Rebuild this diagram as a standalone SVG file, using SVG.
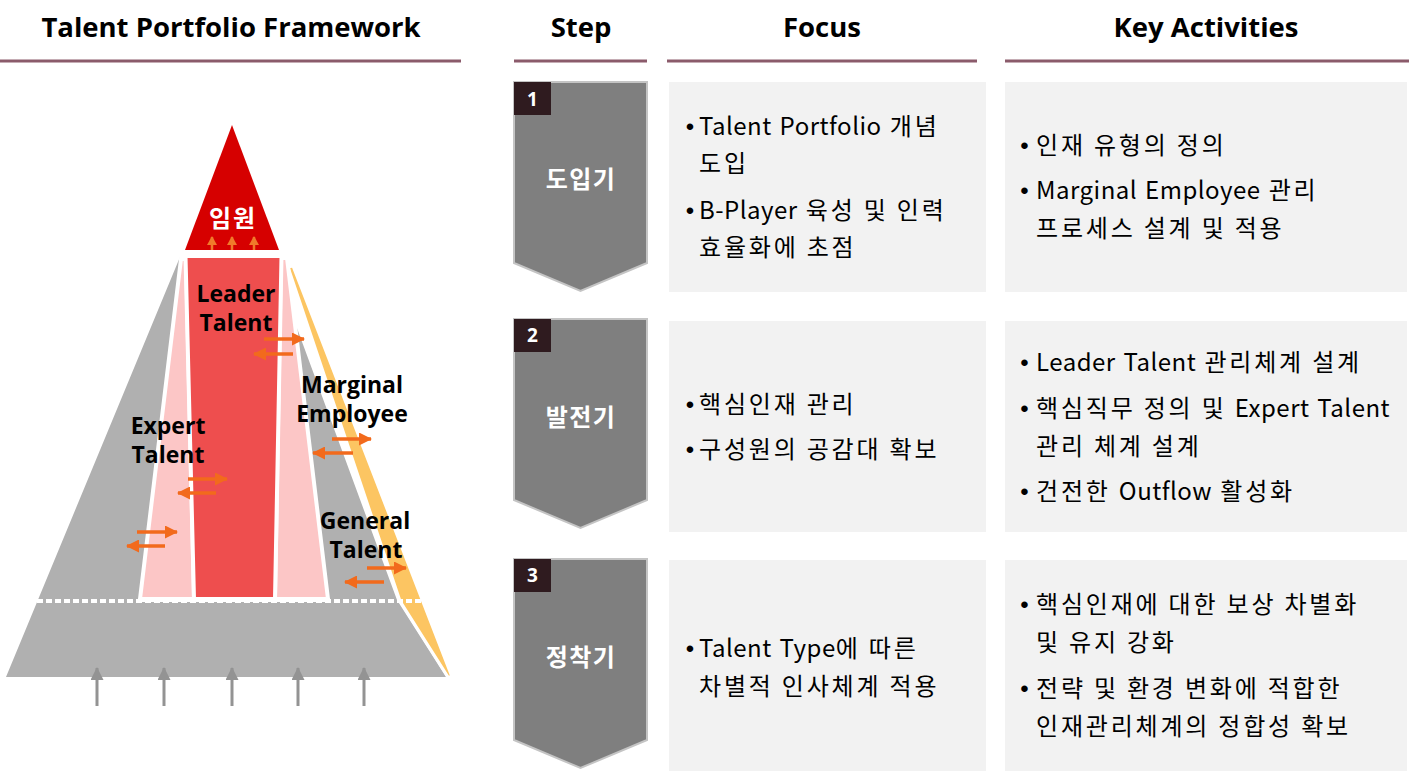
<svg xmlns="http://www.w3.org/2000/svg" width="1409" height="771" viewBox="0 0 1409 771">
<defs>
<style>
.hdr{font-family:"Open Sans","Noto Sans CJK KR",sans-serif;font-weight:700;font-size:27.5px;text-anchor:middle;fill:#000}
.hline{stroke:#8b5b6b;stroke-width:3}
.chev{fill:#7f7f7f;stroke:#c4c4c4;stroke-width:2}
.numbox{fill:#2f1b1f}
.num{font-family:"Open Sans",sans-serif;font-weight:700;font-size:19px;fill:#fff;text-anchor:middle}
.step{font-family:"Noto Sans CJK KR",sans-serif;font-weight:700;font-size:24px;letter-spacing:1.5px;fill:#fff;text-anchor:middle}
.box{fill:#f2f2f2}
.t{font-family:"Noto Sans CJK KR",sans-serif;font-size:24px;letter-spacing:2.8px;fill:#000}
.l{letter-spacing:0.5px;word-spacing:2px}
.b{font-family:"Liberation Sans",sans-serif;font-size:24px;fill:#000;text-anchor:middle}
.lbl{font-family:"Open Sans","Noto Sans CJK KR",sans-serif;font-weight:700;font-size:23px;fill:#000;text-anchor:middle}
.oarr{stroke:#f26a1c;stroke-width:3.5;fill:none}
.garr{stroke:#939393;stroke-width:3;fill:none}
.uarr{stroke:#f07a2a;stroke-width:2.5;fill:none}
.wline{stroke:#fff;stroke-width:4}
</style>
<marker id="oh" markerUnits="userSpaceOnUse" markerWidth="13" markerHeight="13" refX="12" refY="6.5" orient="auto">
<path d="M0,0 L13,6.5 L0,13 Z" fill="#f26a1c"/>
</marker>
<marker id="gh" markerUnits="userSpaceOnUse" markerWidth="13" markerHeight="13" refX="12" refY="6.5" orient="auto">
<path d="M0,0 L13,6.5 L0,13 Z" fill="#939393"/>
</marker>
<marker id="uh" markerUnits="userSpaceOnUse" markerWidth="9" markerHeight="10" refX="8" refY="5" orient="auto">
<path d="M0,0 L9,5 L0,10 Z" fill="#f07a2a"/>
</marker>
</defs>
<rect width="1409" height="771" fill="#fff"/>

<g id="headers">
<text class="hdr" x="231" y="37">Talent Portfolio Framework</text>
<text class="hdr" x="581" y="37">Step</text>
<text class="hdr" x="822" y="37">Focus</text>
<text class="hdr" x="1206" y="37">Key Activities</text>
<line class="hline" x1="0" y1="61" x2="461" y2="61"/>
<line class="hline" x1="514" y1="61" x2="647" y2="61"/>
<line class="hline" x1="667" y1="61" x2="977" y2="61"/>
<line class="hline" x1="1005" y1="61" x2="1409" y2="61"/>
</g>

<g id="pyramid">
<polygon id="base-gray" points="180,257 294,320 397,600 446,677 6,677" fill="#b0b0b0"/>
<polygon id="marginal-strip" points="288,267 293,266 452,677 448,677 400,601" fill="#fcc562" stroke="#fff" stroke-width="3" stroke-linejoin="round"/>
<polygon id="expert-pink" points="181,259 186,259 194,599 140,599" fill="#fcc6c6" stroke="#fff" stroke-width="4"/>
<polygon id="general-pink" points="281,258 287,258 328,599 275,599" fill="#fcc6c6" stroke="#fff" stroke-width="4"/>
<polygon id="leader" points="185.5,256 281.5,256 275,599 194,599" fill="#ee4e4e" stroke="#fff" stroke-width="4"/>
<line x1="37" y1="601" x2="424" y2="601" stroke="#fff" stroke-width="4" stroke-dasharray="6 3"/>
<line class="wline" x1="138" y1="600" x2="330" y2="600"/>
<polygon id="executive" points="232,125 185,250 279,250" fill="#d60000"/>
<text x="233" y="227" font-family="Noto Sans CJK KR, sans-serif" font-weight="700" font-size="24" letter-spacing="2" fill="#fff" text-anchor="middle">임원</text>
<text class="lbl" x="236" y="302">Leader</text>
<text class="lbl" x="236" y="331">Talent</text>
<text class="lbl" x="352" y="393">Marginal</text>
<text class="lbl" x="352" y="422">Employee</text>
<text class="lbl" x="168" y="434">Expert</text>
<text class="lbl" x="168" y="463">Talent</text>
<text class="lbl" x="365" y="529">General</text>
<text class="lbl" x="366" y="558">Talent</text>
</g>

<g id="connectors">
<line class="uarr" x1="212" y1="250" x2="212" y2="237" marker-end="url(#uh)"/>
<line class="uarr" x1="232" y1="250" x2="232" y2="237" marker-end="url(#uh)"/>
<line class="uarr" x1="254" y1="250" x2="254" y2="237" marker-end="url(#uh)"/>
<line class="oarr" x1="264" y1="339" x2="304" y2="339" marker-end="url(#oh)"/>
<line class="oarr" x1="293" y1="354" x2="254" y2="354" marker-end="url(#oh)"/>
<line class="oarr" x1="332" y1="439" x2="371" y2="439" marker-end="url(#oh)"/>
<line class="oarr" x1="353" y1="453" x2="313" y2="453" marker-end="url(#oh)"/>
<line class="oarr" x1="188" y1="479" x2="227" y2="479" marker-end="url(#oh)"/>
<line class="oarr" x1="216" y1="493" x2="178" y2="493" marker-end="url(#oh)"/>
<line class="oarr" x1="137" y1="532" x2="177" y2="532" marker-end="url(#oh)"/>
<line class="oarr" x1="165" y1="546" x2="127" y2="546" marker-end="url(#oh)"/>
<line class="oarr" x1="367" y1="568" x2="406" y2="568" marker-end="url(#oh)"/>
<line class="oarr" x1="384" y1="582" x2="345" y2="582" marker-end="url(#oh)"/>
<line class="garr" x1="97" y1="706" x2="97" y2="668" marker-end="url(#gh)"/>
<line class="garr" x1="164" y1="706" x2="164" y2="668" marker-end="url(#gh)"/>
<line class="garr" x1="232" y1="706" x2="232" y2="668" marker-end="url(#gh)"/>
<line class="garr" x1="298" y1="706" x2="298" y2="668" marker-end="url(#gh)"/>
<line class="garr" x1="364" y1="706" x2="364" y2="668" marker-end="url(#gh)"/>
</g>

<g id="step1">
<path class="chev" d="M514,82 L647,82 L647,263 L580.5,291 L514,263 Z"/>
<rect class="numbox" x="514" y="82" width="37" height="33"/>
<text class="num" x="532.5" y="106">1</text>
<text class="step" x="581" y="188">도입기</text>
</g>
<g id="focus1">
<rect class="box" x="669" y="82" width="317" height="210"/>
<text class="b" x="690" y="135">•</text>
<text class="t" x="699" y="135"><tspan class="l">Talent Portfolio</tspan> 개념</text>
<text class="t" x="699" y="172">도입</text>
<text class="b" x="690" y="219">•</text>
<text class="t" x="699" y="219"><tspan class="l">B-Player</tspan> 육성 및 인력</text>
<text class="t" x="699" y="256">효율화에 초점</text>
</g>
<g id="key1">
<rect class="box" x="1005" y="82" width="402" height="210"/>
<text class="b" x="1024.5" y="154">•</text>
<text class="t" x="1036" y="154">인재 유형의 정의</text>
<text class="b" x="1024.5" y="199">•</text>
<text class="t" x="1036" y="199"><tspan class="l">Marginal Employee</tspan> 관리</text>
<text class="t" x="1036" y="237">프로세스 설계 및 적용</text>
</g>

<g id="step2">
<path class="chev" d="M514,319 L647,319 L647,500 L580.5,528 L514,500 Z"/>
<rect class="numbox" x="514" y="319" width="37" height="33"/>
<text class="num" x="532.5" y="342">2</text>
<text class="step" x="581" y="426">발전기</text>
</g>
<g id="focus2">
<rect class="box" x="669" y="321" width="317" height="211"/>
<text class="b" x="690" y="413">•</text>
<text class="t" x="699" y="413">핵심인재 관리</text>
<text class="b" x="690" y="458">•</text>
<text class="t" x="699" y="458">구성원의 공감대 확보</text>
</g>
<g id="key2">
<rect class="box" x="1005" y="321" width="402" height="211"/>
<text class="b" x="1024.5" y="371">•</text>
<text class="t" x="1036" y="371"><tspan class="l">Leader Talent</tspan> 관리체계 설계</text>
<text class="b" x="1024.5" y="417">•</text>
<text class="t" x="1036" y="417">핵심직무 정의 및 <tspan class="l">Expert Talent</tspan></text>
<text class="t" x="1036" y="455">관리 체계 설계</text>
<text class="b" x="1024.5" y="500">•</text>
<text class="t" x="1036" y="500">건전한 <tspan class="l">Outflow</tspan> 활성화</text>
</g>

<g id="step3">
<path class="chev" d="M514,559 L647,559 L647,740 L580.5,768 L514,740 Z"/>
<rect class="numbox" x="514" y="559" width="37" height="33"/>
<text class="num" x="532.5" y="582">3</text>
<text class="step" x="581" y="666">정착기</text>
</g>
<g id="focus3">
<rect class="box" x="669" y="560" width="317" height="211"/>
<text class="b" x="690" y="657">•</text>
<text class="t" x="699" y="657"><tspan class="l">Talent Type</tspan>에 따른</text>
<text class="t" x="699" y="695">차별적 인사체계 적용</text>
</g>
<g id="key3">
<rect class="box" x="1005" y="560" width="402" height="211"/>
<text class="b" x="1024.5" y="613">•</text>
<text class="t" x="1036" y="613">핵심인재에 대한 보상 차별화</text>
<text class="t" x="1036" y="651">및 유지 강화</text>
<text class="b" x="1024.5" y="697">•</text>
<text class="t" x="1036" y="697">전략 및 환경 변화에 적합한</text>
<text class="t" x="1036" y="735">인재관리체계의 정합성 확보</text>
</g>
</svg>
